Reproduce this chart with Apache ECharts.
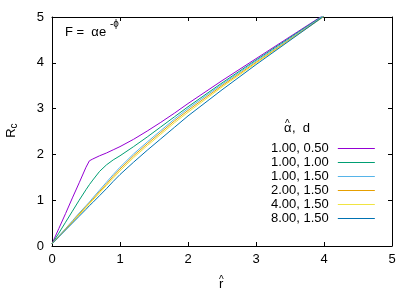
<!DOCTYPE html>
<html><head><meta charset="utf-8">
<script src="https://cdn.jsdelivr.net/npm/echarts@6/dist/echarts.min.js"></script>
<style>html,body{margin:0;padding:0;background:#fff}#c{width:417px;height:292px}</style>
</head><body><div id="c"></div>
<script>
// r-hat sample positions
const rHat = [0,0.1,0.2,0.3,0.4,0.5,0.55,0.6,0.7,0.8,0.9,1.0,1.2,1.4,1.6,1.8,2.0,2.5,3.0,3.5,4.0];
const rc_a1_d050 = [0.05,0.38,0.71,1.05,1.38,1.72,1.86,1.90,1.97,2.03,2.10,2.17,2.33,2.51,2.70,2.90,3.11,3.61,4.09,4.57,5.05];
const rc_a1_d100 = [0.05,0.28,0.52,0.76,1.00,1.23,1.34,1.44,1.63,1.77,1.88,1.97,2.17,2.38,2.60,2.82,3.04,3.56,4.06,4.55,5.04];
const rc_a1_d150 = [0.05,0.22,0.38,0.55,0.72,0.88,0.96,1.05,1.22,1.39,1.56,1.72,2.01,2.27,2.52,2.77,3.00,3.53,4.04,4.53,5.03];
const rc_a2_d150 = [0.05,0.21,0.37,0.53,0.70,0.86,0.94,1.02,1.19,1.35,1.52,1.68,1.97,2.23,2.48,2.73,2.96,3.50,4.01,4.51,5.02];
const rc_a4_d150 = [0.05,0.21,0.36,0.52,0.68,0.84,0.92,1.00,1.16,1.32,1.48,1.64,1.93,2.19,2.44,2.69,2.92,3.47,3.99,4.50,5.01];
const rc_a8_d150 = [0.05,0.20,0.35,0.50,0.65,0.80,0.88,0.95,1.10,1.25,1.41,1.56,1.83,2.09,2.34,2.59,2.84,3.41,3.96,4.49,5.02];
const seriesNames = ['1.00, 0.50','1.00, 1.00','1.00, 1.50','2.00, 1.50','4.00, 1.50','8.00, 1.50'];
const seriesValues = [rc_a1_d050, rc_a1_d100, rc_a1_d150, rc_a2_d150, rc_a4_d150, rc_a8_d150];
const seriesColors = ['#9400d3','#009e73','#56b4e9','#e69f00','#f0e442','#0072b2'];
const xTicks = [0,1,2,3,4,5];
const yTicks = [0,1,2,3,4,5];

const FONT = 'Liberation Sans, Arial, DejaVu Sans, sans-serif';
const chart = echarts.init(document.getElementById('c'), null, {renderer:'canvas'});
function axisBase(pos, showLabel, ticks, margin){
  return {
    type:'value', position:pos, min:ticks[0], max:ticks[ticks.length-1], interval:1,
    axisLine:{show:true, onZero:false, lineStyle:{color:'#000', width:1}},
    axisTick:{show:true, inside:true, length:4, lineStyle:{color:'#000', width:1}},
    axisLabel:{show:showLabel, color:'#000', fontSize:13, fontFamily:FONT, margin:margin},
    splitLine:{show:false}
  };
}
const option = {
  animation:false,
  backgroundColor:'#fff',
  grid:{left:52, right:25, top:17, bottom:46, containLabel:false},
  xAxis:[axisBase('bottom', true, xTicks, 7), axisBase('top', false, xTicks, 7)],
  yAxis:[axisBase('left', true, yTicks, 8), axisBase('right', false, yTicks, 8)],
  legend:{
    show:true, orient:'vertical', left:266, top:137, align:'right',
    itemWidth:37, itemHeight:1, itemGap:1, icon:'rect', selectedMode:false,
    textStyle:{color:'#000', fontSize:13, fontFamily:FONT, lineHeight:13, padding:[0,4,0,0]},
    data:seriesNames
  },
  series: seriesNames.map((n,i)=>({
    name:n, type:'line', xAxisIndex:0, yAxisIndex:0, showSymbol:false, symbol:'none',
    clip:true, smooth:false,
    lineStyle:{color:seriesColors[i], width:1}, itemStyle:{color:seriesColors[i]},
    data: rHat.map((r,k)=>[r, seriesValues[i][k]])
  })),
  graphic:[
    {type:'text', left:65, top:26, style:{text:'F =  αe', fontSize:13, fontFamily:FONT, fill:'#000'}},
    {type:'text', left:110, top:19, style:{text:'-ϕ', fontSize:10, fontFamily:FONT, fill:'#000'}},
    {type:'text', left:284, top:122, style:{text:'α', fontSize:13, fontFamily:FONT, fill:'#000'}},
    {type:'text', left:285, top:119, style:{text:'^', fontSize:10, fontFamily:FONT, fill:'#000'}},
    {type:'text', left:292, top:122, style:{text:',  d', fontSize:13, fontFamily:FONT, fill:'#000'}},
    {type:'text', left:219, top:278, style:{text:'r', fontSize:13, fontFamily:FONT, fill:'#000'}},
    {type:'text', left:219, top:275, style:{text:'^', fontSize:10, fontFamily:FONT, fill:'#000'}},
    {type:'group', x:11, y:133, rotation:Math.PI/2, children:[
      {type:'text', x:0, y:0, style:{text:'R', fontSize:13, fontFamily:FONT, fill:'#000', align:'center', verticalAlign:'middle'}},
      {type:'text', x:7, y:3, style:{text:'c', fontSize:10, fontFamily:FONT, fill:'#000', align:'center', verticalAlign:'middle'}}
    ]}
  ]
};
chart.setOption(option);
</script></body></html>
